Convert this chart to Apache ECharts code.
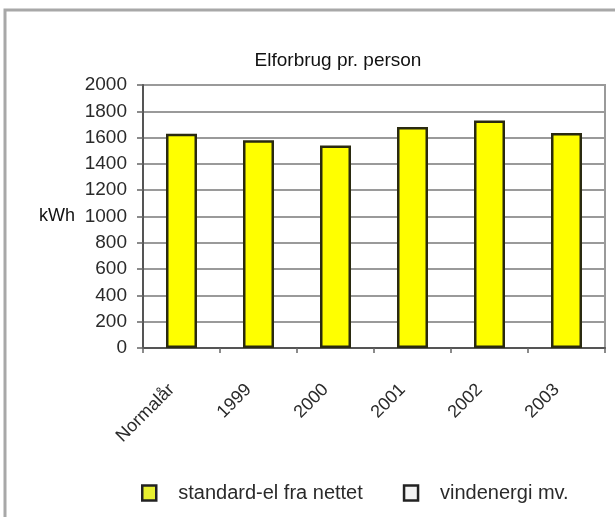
<!DOCTYPE html>
<html>
<head>
<meta charset="utf-8">
<script src="https://cdn.jsdelivr.net/npm/echarts@6/dist/echarts.min.js"></script>
<style>
  html, body { margin: 0; padding: 0; background: #fff; }
  #chart { width: 615px; height: 517px; }
</style>
</head>
<body>
<div id="chart"></div>
<script>
// data
const categories = ['Normalår', '1999', '2000', '2001', '2002', '2003'];
const standardEl = [1630, 1580, 1540, 1680, 1730, 1635];
const vindenergi = [0, 0, 0, 0, 0, 0];
const yTicks = { min: 0, max: 2000, interval: 200 };

const FONT = 'Liberation Sans, Arial, sans-serif';
const TXT = '#2a2a2a';

const chart = echarts.init(document.getElementById('chart'));

chart.setOption({
  backgroundColor: '#fff',
  animation: false,
  title: {
    text: 'Elforbrug pr. person',
    left: 333,
    top: 46,
    textAlign: 'center',
    textStyle: { fontFamily: FONT, fontSize: 19, fontWeight: 'normal', color: '#111' }
  },
  graphic: [
    {
      type: 'rect',
      shape: { x: 5, y: 10, width: 640, height: 540 },
      style: { fill: 'none', stroke: '#a8a8a8', lineWidth: 3 },
      silent: true
    }
  ],
  legend: {
    top: 478,
    left: 136,
    itemGap: 40,
    itemWidth: 14,
    itemHeight: 15,
    icon: 'rect',
    textStyle: { fontFamily: FONT, fontSize: 20, color: TXT, padding: [0, 0, 0, 17] },
    data: [
      { name: 'standard-el fra nettet', itemStyle: { color: '#e8f030', borderColor: '#222', borderWidth: 2.5 } },
      { name: 'vindenergi mv.', itemStyle: { color: '#f4f4f4', borderColor: '#222', borderWidth: 2.5 } }
    ]
  },
  grid: { left: 143, right: 10, top: 85, bottom: 169, show: true, borderColor: '#9a9a9a', borderWidth: 2 },
  xAxis: {
    type: 'category',
    data: categories,
    axisLine: { lineStyle: { color: '#555', width: 2 } },
    axisTick: { show: true, length: 5, lineStyle: { color: '#666', width: 1.5 } },
    axisLabel: { rotate: 45, fontFamily: FONT, fontSize: 18, color: TXT, margin: 29, padding: [0, 14, 0, 0] }
  },
  yAxis: {
    type: 'value',
    min: yTicks.min,
    max: yTicks.max,
    interval: yTicks.interval,
    name: 'kWh',
    nameLocation: 'middle',
    nameRotate: 0,
    nameGap: 68,
    nameTextStyle: { fontFamily: FONT, fontSize: 18, color: '#111' },
    axisLine: { show: true, lineStyle: { color: '#555', width: 2 } },
    axisTick: { show: true, length: 6, lineStyle: { color: '#666', width: 1.5 } },
    axisLabel: { fontFamily: FONT, fontSize: 19, color: TXT, margin: 16, formatter: v => String(v) },
    splitLine: { lineStyle: { color: '#9a9a9a', width: 2 } }
  },
  series: [
    {
      name: 'standard-el fra nettet',
      type: 'bar',
      stack: 'total',
      barWidth: 31,
      data: standardEl,
      itemStyle: { color: '#ffff00', borderColor: '#2a2a10', borderWidth: 2.5 }
    },
    {
      name: 'vindenergi mv.',
      type: 'bar',
      stack: 'total',
      barWidth: 31,
      data: vindenergi,
      itemStyle: { color: '#fff', borderColor: '#222', borderWidth: 0 }
    }
  ]
});
</script>
</body>
</html>
